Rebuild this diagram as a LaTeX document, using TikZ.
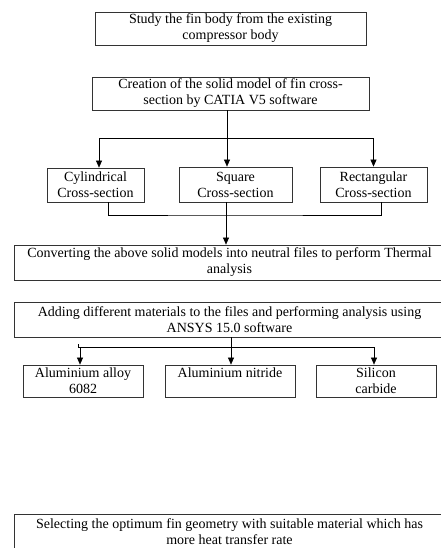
\documentclass[tikz,border=0pt]{standalone}
\usepackage{fontspec}
\setmainfont{Liberation Serif}
\usetikzlibrary{arrows.meta,positioning}
\begin{document}
\begin{tikzpicture}[x=1pt,y=-1pt,line width=.6pt,
  box/.style={draw=black!80,line width=.8pt,align=center,inner sep=0pt,font=\fontsize{14}{16}\selectfont},
  arr/.style={-{Triangle[width=6pt,length=7pt]}}]
\clip (0,0) rectangle (441,548);
% process boxes
\node[box,minimum width=271,minimum height=33] (study) at (230.5,28.5){Study the fin body from the existing\\compressor body};
\node[box,minimum width=277,minimum height=33] (cad) at (230.5,93.5){Creation of the solid model of fin cross-\\section by CATIA V5 software};
\node[box,minimum width=97,minimum height=34] (cyl) at (95.5,185){Cylindrical\\Cross-section};
\node[box,minimum width=113,minimum height=35] (sq) at (235.5,184.5){Square\\Cross-section};
\node[box,minimum width=107,minimum height=35] (rect) at (373.5,184.5){Rectangular\\Cross-section};
\node[box,minimum width=431,minimum height=35] (conv) at (229.5,262.5){Converting the above solid models into neutral files to perform Thermal\\analysis};
\node[box,minimum width=431,minimum height=35] (ansys) at (229.5,319.5){Adding different materials to the files and performing analysis using\\ANSYS 15.0 software};
\node[box,minimum width=120,minimum height=32] (alloy) at (83,381){Aluminium alloy\\6082};
\node[box,minimum width=130,minimum height=32] (nit) at (230,381){Aluminium nitride\\~};
\node[box,minimum width=120,minimum height=32] (sic) at (376,381){Silicon\\carbide};
\node[box,minimum width=431,minimum height=36] (select) at (229.5,532){Selecting the optimum fin geometry with suitable material which has\\more heat transfer rate};
% connectors
\coordinate (split1) at (227,138);
\draw[arr] (cad.south -| split1)--(split1 |- sq.north);
\draw[arr] (split1) -| ([xshift=3.5pt]cyl.north);
\draw[arr] (split1) -| (rect.north);
\coordinate (join) at (226,215);
\draw ([xshift=12.5pt]cyl.south) |- (join) -| ([xshift=7.5pt]rect.south);
\draw[arr] (join |- sq.south)--(join |- conv.north);
\coordinate (split2) at (231,347);
\coordinate (tick) at (78,344);
\draw (ansys.south -| split2)--(split2);
\draw (tick) |- (split2);
\draw[arr] (split2) -| ([xshift=-3pt]alloy.north);
\draw[arr] (split2)--(split2 |- nit.north);
\draw[arr] (split2) -| ([xshift=-2pt]sic.north);
\end{tikzpicture}
\end{document}
